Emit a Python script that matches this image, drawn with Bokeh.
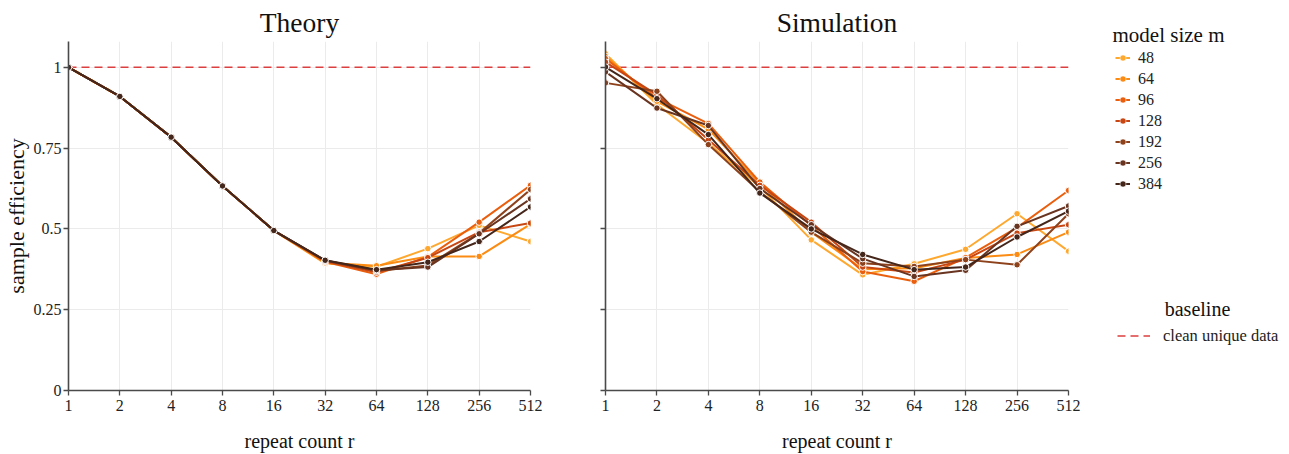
from bokeh.plotting import figure
from bokeh.layouts import row, column
from bokeh.models import (Range1d, FixedTicker, NumeralTickFormatter, CustomJSTickFormatter,
                          Legend, LegendItem, Label, ColumnDataSource)
from bokeh.embed import file_html
from bokeh.resources import INLINE

FONT = "Liberation Serif"

repeat_counts = [1, 2, 4, 8, 16, 32, 64, 128, 256, 512]
model_sizes = ["48", "64", "96", "128", "192", "256", "384"]
colors = ["#fea82f", "#fb8b13", "#ea5f0e", "#c84612", "#8e421c", "#693420", "#45261a"]

theory_48 = [1.0, 0.910, 0.784, 0.633, 0.495, 0.393, 0.383, 0.439, 0.511, 0.461]
theory_64 = [1.0, 0.910, 0.784, 0.633, 0.495, 0.395, 0.386, 0.415, 0.415, 0.515]
theory_96 = [1.0, 0.910, 0.784, 0.633, 0.495, 0.398, 0.360, 0.413, 0.521, 0.635]
theory_128 = [1.0, 0.910, 0.784, 0.633, 0.495, 0.400, 0.366, 0.411, 0.490, 0.518]
theory_192 = [1.0, 0.910, 0.784, 0.633, 0.495, 0.402, 0.370, 0.387, 0.487, 0.622]
theory_256 = [1.0, 0.910, 0.784, 0.633, 0.495, 0.402, 0.372, 0.382, 0.485, 0.593]
theory_384 = [1.0, 0.910, 0.784, 0.633, 0.495, 0.403, 0.374, 0.397, 0.461, 0.568]

sim_48 = [1.042, 0.885, 0.765, 0.630, 0.466, 0.358, 0.392, 0.437, 0.547, 0.431]
sim_64 = [1.034, 0.895, 0.808, 0.640, 0.490, 0.375, 0.378, 0.410, 0.421, 0.490]
sim_96 = [1.027, 0.905, 0.826, 0.645, 0.510, 0.368, 0.338, 0.411, 0.504, 0.619]
sim_128 = [1.016, 0.915, 0.776, 0.635, 0.521, 0.382, 0.365, 0.405, 0.487, 0.513]
sim_192 = [0.952, 0.926, 0.761, 0.615, 0.490, 0.394, 0.384, 0.405, 0.389, 0.547]
sim_256 = [0.986, 0.874, 0.820, 0.625, 0.513, 0.408, 0.353, 0.372, 0.508, 0.571]
sim_384 = [1.001, 0.903, 0.792, 0.611, 0.500, 0.421, 0.374, 0.382, 0.475, 0.555]

baseline_value = 1.0
y_ticks = [0, 0.25, 0.5, 0.75, 1]

theory = [theory_48, theory_64, theory_96, theory_128, theory_192, theory_256, theory_384]
sim = [sim_48, sim_64, sim_96, sim_128, sim_192, sim_256, sim_384]

AXIS_COLOR = "#4a4a4a"
GRID_COLOR = "#ebebeb"
BASE_COLOR = "#dc3f3f"
H = 454


def make_panel(title, series, left_border, right_border, width, show_ylabels):
    p = figure(width=width, height=H, x_axis_type="log",
               x_range=Range1d(1, 512), y_range=Range1d(0, 1.08),
               output_backend="svg", toolbar_location=None, title=title,
               min_border_left=left_border, min_border_right=right_border,
               min_border_top=41, min_border_bottom=64)
    p.outline_line_color = None
    p.title.align = "center"
    p.title.text_font = FONT
    p.title.text_font_size = "27.5px"
    p.title.text_font_style = "normal"
    p.title.text_color = "#111111"
    p.title.offset = 0
    p.title.standoff = 8

    for ax in (p.xaxis[0], p.yaxis[0]):
        ax.axis_line_color = AXIS_COLOR
        ax.axis_line_width = 1.6
        ax.major_tick_line_color = AXIS_COLOR
        ax.major_tick_line_width = 1.3
        ax.major_tick_out = 5
        ax.major_tick_in = 0
        ax.minor_tick_line_color = None
        ax.major_label_text_font = FONT
        ax.major_label_text_font_size = "16px"
        ax.major_label_text_color = "#222222"
        ax.axis_label_text_font = FONT
        ax.axis_label_text_font_style = "normal"
        ax.axis_label_text_color = "#111111"

    p.xaxis.ticker = FixedTicker(ticks=repeat_counts)
    p.xaxis.formatter = NumeralTickFormatter(format="0")
    p.xaxis.axis_label = "repeat count r"
    p.xaxis.axis_label_text_font_size = "20px"
    p.xaxis.axis_label_standoff = 16
    p.xaxis.major_label_standoff = 4

    p.yaxis.ticker = FixedTicker(ticks=y_ticks)
    if show_ylabels:
        p.yaxis.formatter = NumeralTickFormatter(format="0.[00]")
        p.yaxis.axis_label = "sample efficiency"
        p.yaxis.axis_label_text_font_size = "22px"
        p.yaxis.axis_label_standoff = 2
        p.yaxis.major_label_standoff = 2
    else:
        p.yaxis.formatter = CustomJSTickFormatter(code="return ''")
        p.yaxis.major_label_standoff = 0

    p.xgrid.grid_line_color = GRID_COLOR
    p.ygrid.grid_line_color = GRID_COLOR
    p.xgrid.grid_line_width = 1
    p.ygrid.grid_line_width = 1

    p.line(x=[repeat_counts[0], repeat_counts[-1]], y=[baseline_value, baseline_value],
           line_color=BASE_COLOR, line_width=1.5, line_dash="8 5")

    for name, vals, col in zip(model_sizes, series, colors):
        src = ColumnDataSource(data=dict(x=repeat_counts, y=vals))
        p.line("x", "y", source=src, line_color=col, line_width=2)
        p.scatter("x", "y", source=src, size=6.5, fill_color=col,
                  line_color="white", line_width=1)
    return p


p1 = make_panel("Theory", theory, 68, 45, 575, True)
p2 = make_panel("Simulation", sim, 30, 15, 508, False)

# legend-only panel (its frame covers the whole panel); glyphs drawn out of view
LW, LH = 206, H
p3 = figure(width=LW, height=LH, x_range=Range1d(0, 1), y_range=Range1d(0, 1),
            output_backend="svg", toolbar_location=None,
            min_border_left=0, min_border_right=0, min_border_top=0, min_border_bottom=0)
p3.axis.visible = False
p3.grid.visible = False
p3.outline_line_color = None

items = []
for name, vals, col in zip(model_sizes, sim, colors):
    src = ColumnDataSource(data=dict(x=[5, 6], y=vals[:2]))
    ln = p3.line("x", "y", source=src, line_color=col, line_width=2)
    sc = p3.scatter("x", "y", source=src, size=5, fill_color=col, line_color="white", line_width=0.5)
    items.append(LegendItem(label=name, renderers=[ln, sc]))
base_leg = p3.line(x=[5, 6], y=[baseline_value, baseline_value],
                   line_color=BASE_COLOR, line_width=1.5, line_dash="8 5")

# tuple location = bottom-left corner of the legend box, in pixels from the panel's bottom-left
legend1 = Legend(items=items, location=(32, LH - 194), margin=0, padding=0,
                 glyph_width=15, glyph_height=21, label_height=21, spacing=0,
                 label_standoff=8, label_text_font=FONT, label_text_font_size="16px",
                 label_text_color="#222222", border_line_color=None, background_fill_alpha=0)
legend2 = Legend(items=[LegendItem(label="clean unique data", renderers=[base_leg])],
                 location=(34, LH - 346), margin=0, padding=0,
                 glyph_width=33, glyph_height=21, label_height=21, spacing=0,
                 label_standoff=13, label_text_font=FONT, label_text_font_size="16.5px",
                 label_text_color="#222222", border_line_color=None, background_fill_alpha=0)
p3.add_layout(legend1)
p3.add_layout(legend2)

p3.add_layout(Label(x=29, y=LH - 34, x_units="screen", y_units="screen", text="model size m",
                    text_font=FONT, text_font_size="21px", text_baseline="middle",
                    text_align="left", text_color="#111111"))
p3.add_layout(Label(x=114, y=LH - 308, x_units="screen", y_units="screen", text="baseline",
                    text_font=FONT, text_font_size="20px", text_baseline="middle",
                    text_align="center", text_color="#111111"))

layout = row(p1, p2, column(p3))
open("out.html", "w").write(file_html(layout, INLINE))
